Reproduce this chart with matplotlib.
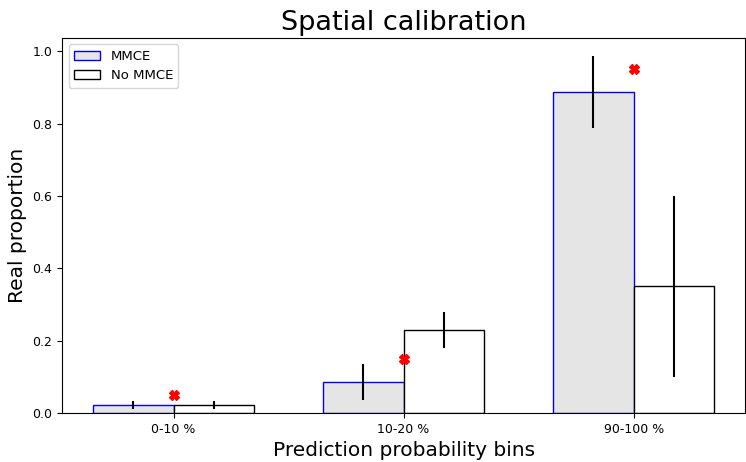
import matplotlib
matplotlib.use("Agg")
import matplotlib.pyplot as plt
import numpy as np

categories = ["0-10 %", "10-20 %", "90-100 %"]
mmce_vals = [0.022, 0.086, 0.888]
mmce_err = [0.01, 0.05, 0.10]
nommce_vals = [0.022, 0.23, 0.35]
nommce_err = [0.01, 0.05, 0.25]
expected = [0.05, 0.15, 0.95]

fig, ax = plt.subplots(figsize=(7.46, 4.62), dpi=100)
x = np.arange(len(categories))
w = 0.35
ax.bar(x - w / 2, mmce_vals, w, yerr=mmce_err, color="#e5e5e5", edgecolor="blue",
       label="MMCE", error_kw=dict(ecolor="black", elinewidth=1.5, capsize=0))
ax.bar(x + w / 2, nommce_vals, w, yerr=nommce_err, color="white", edgecolor="black",
       label="No MMCE", error_kw=dict(ecolor="black", elinewidth=1.5, capsize=0))
ax.plot(x, expected, "X", color="red", markersize=7, linestyle="none")

ax.set_xticks(x)
ax.set_xticklabels(categories)
ax.tick_params(labelsize=9)
ax.set_xlabel("Prediction probability bins", fontsize=14.5)
ax.set_ylabel("Real proportion", fontsize=14.5)
ax.set_title("Spatial calibration", fontsize=19.5)
ax.legend(loc="upper left", fontsize=9.5)
fig.subplots_adjust(left=0.083, right=0.999, top=0.918, bottom=0.106)
fig.savefig("out.png", dpi=100)
